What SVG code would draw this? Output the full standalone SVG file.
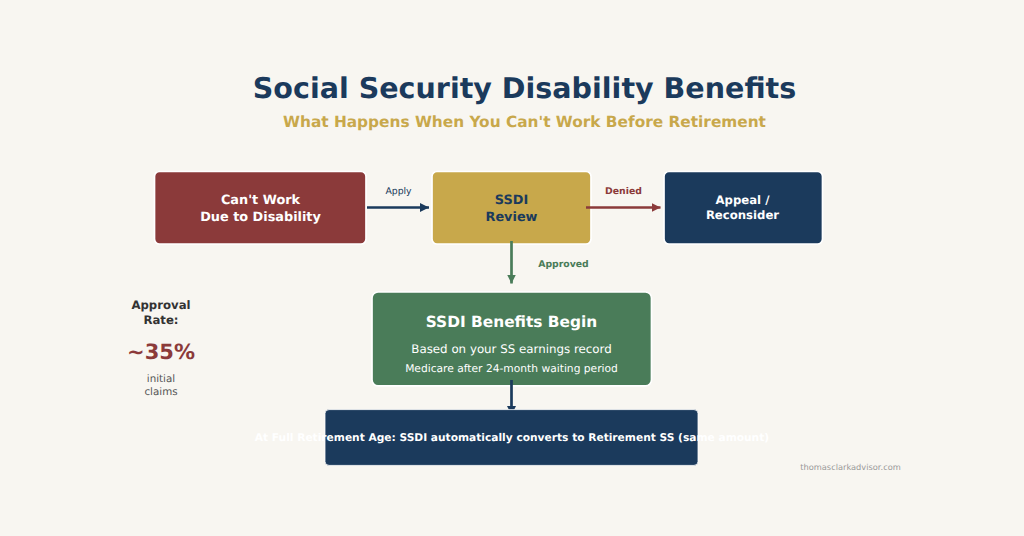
<svg xmlns="http://www.w3.org/2000/svg" width="1024" height="536" viewBox="0 0 1024 536">
<style>
text{font-family:"DejaVu Sans",sans-serif;text-anchor:middle;text-rendering:geometricPrecision}
.b{font-weight:700}
.box{stroke:#fff;stroke-width:1.700}
.w{fill:#fff}
.n{fill:#1b3a5c}.r{fill:#8b3a3a}.g{fill:#4a7c59}.y{fill:#c8a84b}.k{fill:#333}.m{fill:#555}
.ln{fill:none;stroke-width:2.700}
</style>
<defs>
<marker id="an" markerUnits="userSpaceOnUse" markerWidth="11" markerHeight="11" refX="9" refY="5" orient="auto"><path d="M0 .5L9 5L0 9.500Z" fill="#1b3a5c"/></marker>
<marker id="ar" markerUnits="userSpaceOnUse" markerWidth="11" markerHeight="11" refX="9" refY="5" orient="auto"><path d="M0 .5L9 5L0 9.500Z" fill="#8b3a3a"/></marker>
<marker id="ag" markerUnits="userSpaceOnUse" markerWidth="11" markerHeight="11" refX="9" refY="5" orient="auto"><path d="M0 .5L9 5L0 9.500Z" fill="#4a7c59"/></marker>
</defs>
<rect width="1024" height="536" fill="#f8f6f1"/>
<text id="title" class="b n" x="524.500" y="98" font-size="28.550">Social Security Disability Benefits</text>
<text id="subtitle" class="b y" x="524.500" y="127" font-size="15.350">What Happens When You Can't Work Before Retirement</text>
<g id="node-cant-work"><rect class="box r" x="154.500" y="171.500" width="211.500" height="72.500" rx="5"/><text class="b w" x="260.500" y="204" font-size="12.850">Can't Work</text><text class="b w" x="260.500" y="221" font-size="12.850">Due to Disability</text></g>
<g id="node-review"><rect class="box y" x="432" y="171.500" width="159" height="72.500" rx="5"/><text class="b n" x="511.500" y="204" font-size="12.850">SSDI</text><text class="b n" x="511.500" y="221" font-size="12.850">Review</text></g>
<g id="node-appeal"><rect class="box n" x="664" y="171.500" width="158.500" height="72.500" rx="5"/><text class="b w" x="742.500" y="204" font-size="11.700">Appeal /</text><text class="b w" x="742.500" y="218.500" font-size="11.700">Reconsider</text></g>
<g id="node-benefits"><rect class="box g" x="372" y="292" width="279.500" height="93.800" rx="6"/><text class="b w" x="511.500" y="327.300" font-size="15.400">SSDI Benefits Begin</text><text class="w" x="511.500" y="353" font-size="11.830">Based on your SS earnings record</text><text class="w" x="511.500" y="372" font-size="10.700">Medicare after 24-month waiting period</text></g>
<g id="connectors">
<path class="ln" stroke="#1b3a5c" marker-end="url(#an)" d="M367 207.500H429"/>
<path class="ln" stroke="#8b3a3a" marker-end="url(#ar)" d="M586 207.500H660.500"/>
<path class="ln" stroke="#4a7c59" marker-end="url(#ag)" d="M511.500 241V283.500"/>
<path class="ln" stroke="#1b3a5c" marker-end="url(#an)" d="M511.500 380V415"/>
<text class="n" x="398.500" y="194" font-size="9.300">Apply</text>
<text class="b r" x="623.500" y="194" font-size="9.300">Denied</text>
<text class="b g" x="563.500" y="266.500" font-size="9.300">Approved</text>
</g>
<g id="node-fra"><rect class="n" stroke="#fff" stroke-width="0.800" x="325" y="409.600" width="373" height="55.800" rx="4"/><text class="b w" x="512" y="441" font-size="10.650">At Full Retirement Age: SSDI automatically converts to Retirement SS (same amount)</text></g>
<g id="stat">
<text class="b k" x="161" y="309" font-size="11.700">Approval</text><text class="b k" x="161" y="323.500" font-size="11.700">Rate:</text>
<text class="b r" x="161" y="359" font-size="21">~35%</text>
<text class="m" x="161" y="382" font-size="10.300">initial</text><text class="m" x="161" y="395" font-size="10.300">claims</text>
</g>
<text id="credit" x="850.500" y="470" font-size="8.250" fill="#999">thomasclarkadvisor.com</text>
</svg>
